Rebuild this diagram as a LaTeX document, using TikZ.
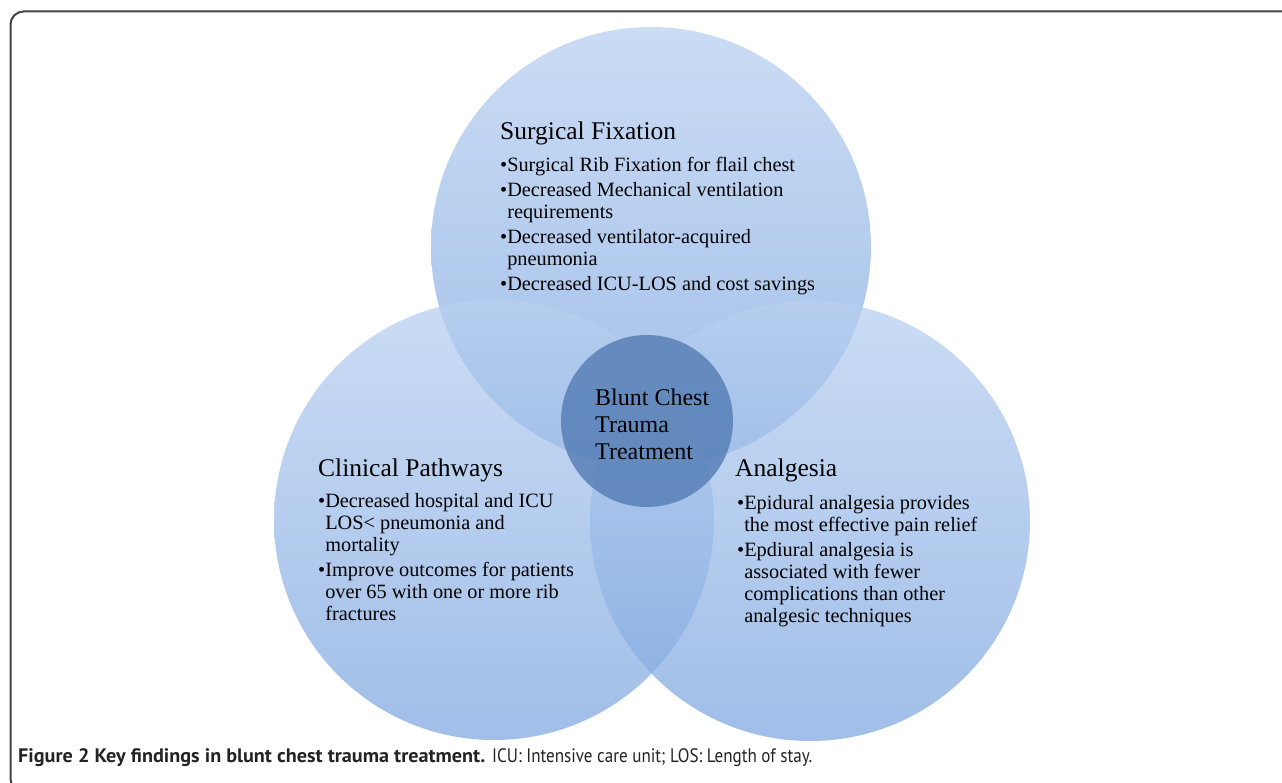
\documentclass[tikz,border=0pt]{standalone}
\usepackage{fontspec}
\setmainfont{Liberation Serif}
\newfontfamily\capfont{PT Sans}
\usetikzlibrary{positioning}

\definecolor{bubtop}{RGB}{185,208,241}
\definecolor{bubbot}{RGB}{128,168,224}
\definecolor{hubcol}{RGB}{88,128,182}
\definecolor{framecol}{RGB}{68,68,68}
\definecolor{capcol}{RGB}{35,35,35}

\begin{document}
\begin{tikzpicture}[
		x=1pt,y=-1pt,
		bubble/.style={circle,minimum size=440pt,inner sep=0pt,draw=none,
			top color=bubtop,bottom color=bubbot,fill opacity=0.75},
		hub/.style={circle,minimum size=172pt,inner sep=0pt,fill=hubcol,fill opacity=0.85},
		head/.style={anchor=base west,inner sep=0pt,font=\fontsize{25.5}{28}\selectfont},
		facts/.style={anchor=north west,inner sep=0pt,align=left,font=\fontsize{20.3}{22}\selectfont},
		captionline/.style={anchor=base west,inner sep=0pt,text=capcol,font=\capfont\fontsize{19.5}{22}\selectfont}
		]
		\useasboundingbox (0,0) rectangle (1282,783);
		% frame
		\draw[framecol,line width=2pt,rounded corners=13pt] (1290,11.5) -- (10.5,11.5) -- (10.5,792) -- (40,792);
		% circles
		\node[bubble] (surgical) at (651,247) {};
		\node[bubble] (clinical) at (494,520) {};
		\node[bubble] (analgesia) at (810,521) {};
		\node[hub] (blunt) at (647,421) {};
		% centre text
		\node[anchor=north west,inner sep=0pt,align=left,font=\fontsize{24}{26.7}\selectfont] (bluntlbl) at (595,389)
		{Blunt Chest\\Trauma\\Treatment};
		% surgical fixation
		\node[head] (surghead) at (500,140) {Surgical Fixation};
		\node[facts] (surgfacts) at (500,157)
		{\textbullet Surgical Rib Fixation for flail chest\\[3pt]
			\textbullet Decreased Mechanical ventilation\\
			\hphantom{\textbullet}requirements\\[3pt]
			\textbullet Decreased ventilator-acquired\\
			\hphantom{\textbullet}pneumonia\\[3pt]
			\textbullet Decreased ICU-LOS and cost savings};
		% clinical pathways
		\node[head] (clinhead) at (318,476) {Clinical Pathways};
		\node[facts] (clinfacts) at (318,493)
		{\textbullet Decreased hospital and ICU\\
			\hphantom{\textbullet}LOS< pneumonia and\\
			\hphantom{\textbullet}mortality\\[3pt]
			\textbullet Improve outcomes for patients\\
			\hphantom{\textbullet}over 65 with one or more rib\\
			\hphantom{\textbullet}fractures};
		% analgesia
		\node[head] (analhead) at (735,476) {Analgesia};
		\node[facts] (analfacts) at (737,495)
		{\textbullet Epidural analgesia provides\\
			\hphantom{\textbullet}the most effective pain relief\\[3pt]
			\textbullet Epdiural analgesia is\\
			\hphantom{\textbullet}associated with fewer\\
			\hphantom{\textbullet}complications than other\\
			\hphantom{\textbullet}analgesic techniques};
		% caption
		\node[captionline] (captitle) at (18,762)
		{\resizebox{467pt}{\height}{\textbf{Figure 2 Key findings in blunt chest trauma treatment.}}};
		\node[captionline] (captext) at (492,762)
		{\resizebox{320pt}{\height}{ICU: Intensive care unit; LOS: Length of stay.}};
	\end{tikzpicture}
\end{document}
